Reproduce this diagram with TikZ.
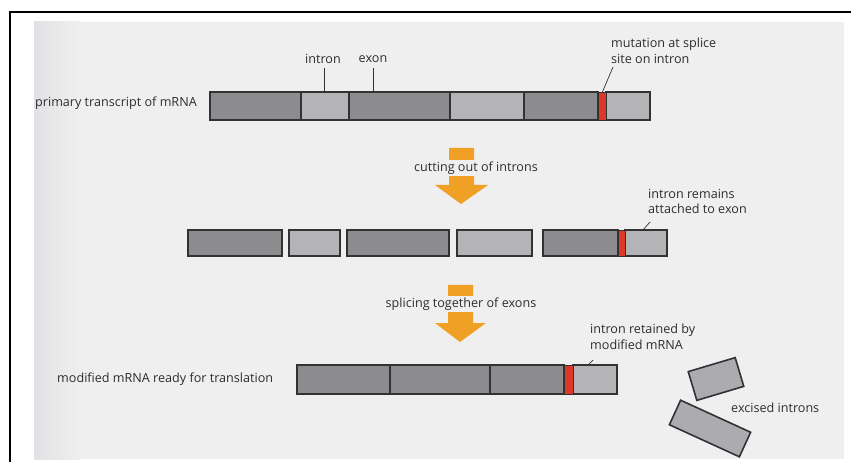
\documentclass[tikz,border=0pt]{standalone}
\usepackage{fontspec}
\setmainfont{Open Sans}
\definecolor{paper}{RGB}{239,239,240}
\definecolor{paperedge}{RGB}{226,226,228}
\definecolor{dk}{RGB}{140,140,142}
\definecolor{lt}{RGB}{180,180,182}
\definecolor{ex}{RGB}{172,172,176}
\definecolor{mut}{RGB}{220,56,40}
\definecolor{orng}{RGB}{240,160,36}
\definecolor{edge}{RGB}{50,50,52}
\definecolor{txt}{RGB}{45,45,48}
\begin{document}
\begin{tikzpicture}[x=1pt,y=-1pt,
  lbl/.style={font=\fontsize{12.6}{15.5}\selectfont, text=txt, inner sep=0pt},
  seg/.style={draw=edge, line width=1.1pt},
  leader/.style={draw=edge, line width=0.7pt},
  blockarrow/.style={fill=orng, draw=none},
  intronpiece/.style={draw=edge, line width=1.6pt, fill=ex, inner sep=0pt}]
\useasboundingbox (0,0) rectangle (851,462);
% page and scanned sheet
\fill[white] (0,0) rectangle (851,462);
\fill[paper] (34,22) rectangle (844,459);
\shade[left color=paperedge, right color=paper] (34,22) rectangle (80,459);
\draw[black, line width=2.6pt] (10,462) -- (10,12) -- (851,12);

% --- primary transcript ---
\filldraw[seg, fill=dk] (210,92) rectangle (301,120);
\filldraw[seg, fill=lt] (301,92) rectangle (349,120);
\filldraw[seg, fill=dk] (349,92) rectangle (450,120);
\filldraw[seg, fill=lt] (450,92) rectangle (524,120);
\filldraw[seg, fill=dk] (524,92) rectangle (598,120);
\filldraw[seg, fill=lt] (606,92) rectangle (650,120);
\filldraw[seg, line width=0.8pt, fill=mut] (598,92) rectangle (606,120);
\coordinate (pintron) at (324,92);
\coordinate (pexon) at (373,92);
\coordinate (pmut) at (602,93);

\node[lbl, anchor=west] (lprimary) at (35,103) {primary transcript of mRNA};
\node[lbl] (lintron) at (323,59) {intron};
\node[lbl] (lexon) at (373,59) {exon};
\node[lbl, anchor=north west, align=left] (lmut) at (611,38) {mutation at splice\\site on intron};
\draw[leader] (324,68) -- (pintron);
\draw[leader] (373,68) -- (pexon);
\draw[leader] (613,67) -- (pmut);

% --- first arrow ---
\path[blockarrow] (449,148) -- (474,148) -- (474,185) -- (488,185) -- (461,204)
  -- (435,185) -- (449,185) -- cycle;
\node[lbl, fill=paper, inner xsep=2pt, inner ysep=2pt] (lcut) at (476,168) {cutting out of introns};

% --- pieces after cutting ---
\filldraw[seg, fill=dk] (188,230) rectangle (282,256);
\filldraw[seg, fill=lt] (289,230) rectangle (340,256);
\filldraw[seg, fill=dk] (347,230) rectangle (449,256);
\filldraw[seg, fill=lt] (457,230) rectangle (532,256);
\filldraw[seg, fill=dk] (543,230) rectangle (618,256);
\filldraw[seg, fill=lt] (625,230) rectangle (667,256);
\filldraw[seg, line width=0.8pt, fill=mut] (618,230) rectangle (625,256);
\coordinate (premain) at (643,230);
\node[lbl, anchor=north west, align=left] (lremain) at (648,189) {intron remains\\attached to exon};
\draw[leader] (650,222) -- (premain);

% --- second arrow ---
\path[blockarrow] (448,285) -- (473,285) -- (473,323) -- (486,323) -- (460,342)
  -- (435,323) -- (448,323) -- cycle;
\node[lbl, fill=paper, inner xsep=2pt, inner ysep=2pt] (lsplice) at (461,304) {splicing together of exons};

% --- modified mRNA ---
\filldraw[seg, fill=dk] (297,365) rectangle (390,394);
\filldraw[seg, fill=dk] (390,365) rectangle (490,394);
\filldraw[seg, fill=dk] (490,365) rectangle (564,394);
\filldraw[seg, fill=lt] (573,365) rectangle (617,394);
\filldraw[seg, line width=0.8pt, fill=mut] (564,365) rectangle (573,394);
\coordinate (pretain) at (587,366);
\node[lbl, anchor=west] (lmodified) at (57,379) {modified mRNA ready for translation};
\node[lbl, anchor=north west, align=left] (lretain) at (590,324) {intron retained by\\modified mRNA};
\draw[leader] (593,360) -- (pretain);

% --- excised introns ---
\node[intronpiece, minimum width=49pt, minimum height=30pt, rotate=16.6] (ex1) at (716,379) {};
\node[intronpiece, minimum width=77pt, minimum height=27pt, rotate=-24.6] (ex2) at (710,428.5) {};
\node[lbl, anchor=west] (lexcised) at (731,408) {excised introns};
\end{tikzpicture}
\end{document}
